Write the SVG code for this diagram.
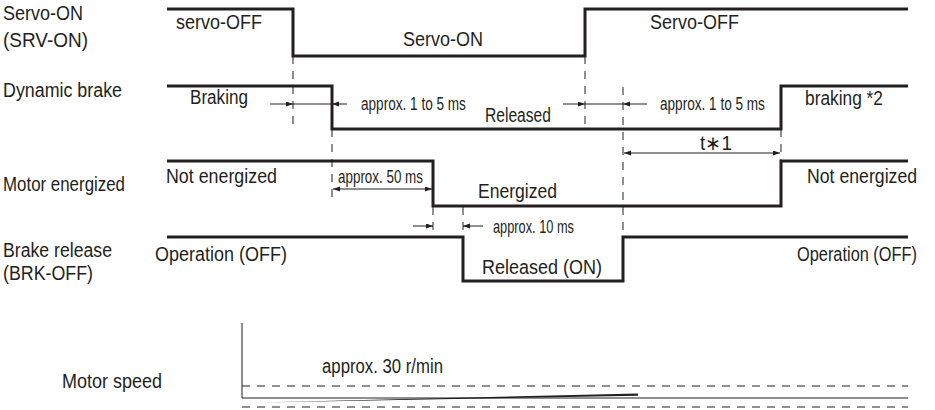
<svg xmlns="http://www.w3.org/2000/svg" width="935" height="410" viewBox="0 0 935 410">
<style>
text{font-family:"Liberation Sans",Arial,Helvetica,sans-serif;fill:#231f20;}
.lbl{font-size:20px;}
.st{font-size:20px;}
.ap{font-size:18.5px;}
.sig{fill:none;stroke:#231f20;stroke-width:3;stroke-linejoin:miter;}
.dash{fill:none;stroke:#231f20;stroke-width:1;stroke-dasharray:8 7;}
.thin{fill:none;stroke:#231f20;stroke-width:1;}
.arr{fill:none;stroke:#231f20;stroke-width:1;marker-end:url(#ah);}
.darr{fill:none;stroke:#231f20;stroke-width:1;marker-end:url(#ah);marker-start:url(#ah);}
</style>
<defs>
<marker id="ah" markerUnits="userSpaceOnUse" markerWidth="8" markerHeight="6" refX="7" refY="2.5" orient="auto-start-reverse">
<path d="M0,0 L7,2.5 L0,5 z" fill="#231f20"/>
</marker>
</defs>
<rect width="935" height="410" fill="#ffffff"/>

<g id="labels">
<text class="lbl" x="3" y="20" textLength="80" lengthAdjust="spacingAndGlyphs">Servo-ON</text>
<text class="lbl" x="3" y="47" textLength="85" lengthAdjust="spacingAndGlyphs">(SRV-ON)</text>
<text class="lbl" x="3" y="97" textLength="119" lengthAdjust="spacingAndGlyphs">Dynamic brake</text>
<text class="lbl" x="3" y="191" textLength="122" lengthAdjust="spacingAndGlyphs">Motor energized</text>
<text class="lbl" x="3" y="257" textLength="109" lengthAdjust="spacingAndGlyphs">Brake release</text>
<text class="lbl" x="3" y="280" textLength="90" lengthAdjust="spacingAndGlyphs">(BRK-OFF)</text>
<text class="lbl" x="62" y="388" textLength="100" lengthAdjust="spacingAndGlyphs">Motor speed</text>
</g>

<g id="servo-on">
<polyline class="sig" points="167,9 293,9 293,56 585,56 585,9 908,9"/>
<text class="st" x="176" y="29" textLength="86" lengthAdjust="spacingAndGlyphs">servo-OFF</text>
<text class="st" x="403" y="46" textLength="80" lengthAdjust="spacingAndGlyphs">Servo-ON</text>
<text class="st" x="650" y="29" textLength="89" lengthAdjust="spacingAndGlyphs">Servo-OFF</text>
</g>

<g id="dynamic-brake">
<polyline class="sig" points="167,86 332,86 332,129 781,129 781,86 908,86"/>
<text class="st" x="190" y="104" textLength="58" lengthAdjust="spacingAndGlyphs">Braking</text>
<text class="st" x="485" y="122" textLength="66" lengthAdjust="spacingAndGlyphs">Released</text>
<text class="st" x="805" y="105" textLength="78" lengthAdjust="spacingAndGlyphs">braking *2</text>
<text class="ap" transform="translate(361,110) scale(0.7346,1)">approx. 1 to 5 ms</text>
<text class="ap" transform="translate(660,110) scale(0.7346,1)">approx. 1 to 5 ms</text>
<text class="st" x="700" y="150" textLength="32" lengthAdjust="spacingAndGlyphs">t∗1</text>
</g>

<g id="motor-energized">
<polyline class="sig" points="167,161 433,161 433,206 781,206 781,161 908,161"/>
<text class="st" x="166" y="183" textLength="111" lengthAdjust="spacingAndGlyphs">Not energized</text>
<text class="st" x="478" y="198" textLength="79" lengthAdjust="spacingAndGlyphs">Energized</text>
<text class="st" transform="translate(807,183) scale(0.885,1)">Not energized</text>
<text class="ap" x="338" y="183" textLength="85" lengthAdjust="spacingAndGlyphs">approx. 50 ms</text>
</g>

<g id="brake-release">
<polyline class="sig" points="167,237 463,237 463,281 623,281 623,237 908,237"/>
<text class="st" x="155" y="261" textLength="132" lengthAdjust="spacingAndGlyphs">Operation (OFF)</text>
<text class="st" x="482" y="274" textLength="120" lengthAdjust="spacingAndGlyphs">Released (ON)</text>
<text class="st" transform="translate(797,261) scale(0.818,1)">Operation (OFF)</text>
<text class="ap" x="493" y="233" textLength="81" lengthAdjust="spacingAndGlyphs">approx. 10 ms</text>
</g>

<g id="motor-speed">
<line class="thin" x1="242" y1="323" x2="242" y2="398"/>
<line class="thin" x1="242" y1="398" x2="908" y2="398"/>
<line class="dash" x1="242" y1="386" x2="908" y2="386"/>
<line class="dash" x1="242" y1="407" x2="908" y2="407"/>
<polygon points="260,402.5 638,393.5 638,395.8" fill="#231f20"/>
<text class="st" x="322" y="373" textLength="121" lengthAdjust="spacingAndGlyphs">approx. 30 r/min</text>
</g>

<g id="connectors">
<line class="dash" x1="293" y1="56" x2="293" y2="126"/>
<line class="dash" x1="332" y1="129" x2="332" y2="200"/>
<line class="dash" x1="585" y1="56" x2="585" y2="128"/>
<line class="dash" x1="623" y1="87" x2="623" y2="237"/>
<line class="dash" x1="781" y1="129" x2="781" y2="160"/>
<line class="dash" x1="433" y1="207" x2="433" y2="230"/>
<line class="dash" x1="463" y1="207" x2="463" y2="230"/>
<line class="arr" x1="270" y1="104" x2="293" y2="104"/>
<line class="thin" x1="293" y1="104" x2="332" y2="104"/>
<line class="arr" x1="347" y1="104" x2="332" y2="104"/>
<line class="arr" x1="563" y1="104" x2="585" y2="104"/>
<line class="thin" x1="585" y1="104" x2="623" y2="104"/>
<line class="arr" x1="647" y1="104" x2="623" y2="104"/>
<line class="darr" x1="624" y1="153" x2="780" y2="153"/>
<line class="darr" x1="333" y1="189" x2="432" y2="189"/>
<line class="arr" x1="413" y1="226" x2="433" y2="226"/>
<line class="arr" x1="483" y1="226" x2="463" y2="226"/>
</g>
</svg>
